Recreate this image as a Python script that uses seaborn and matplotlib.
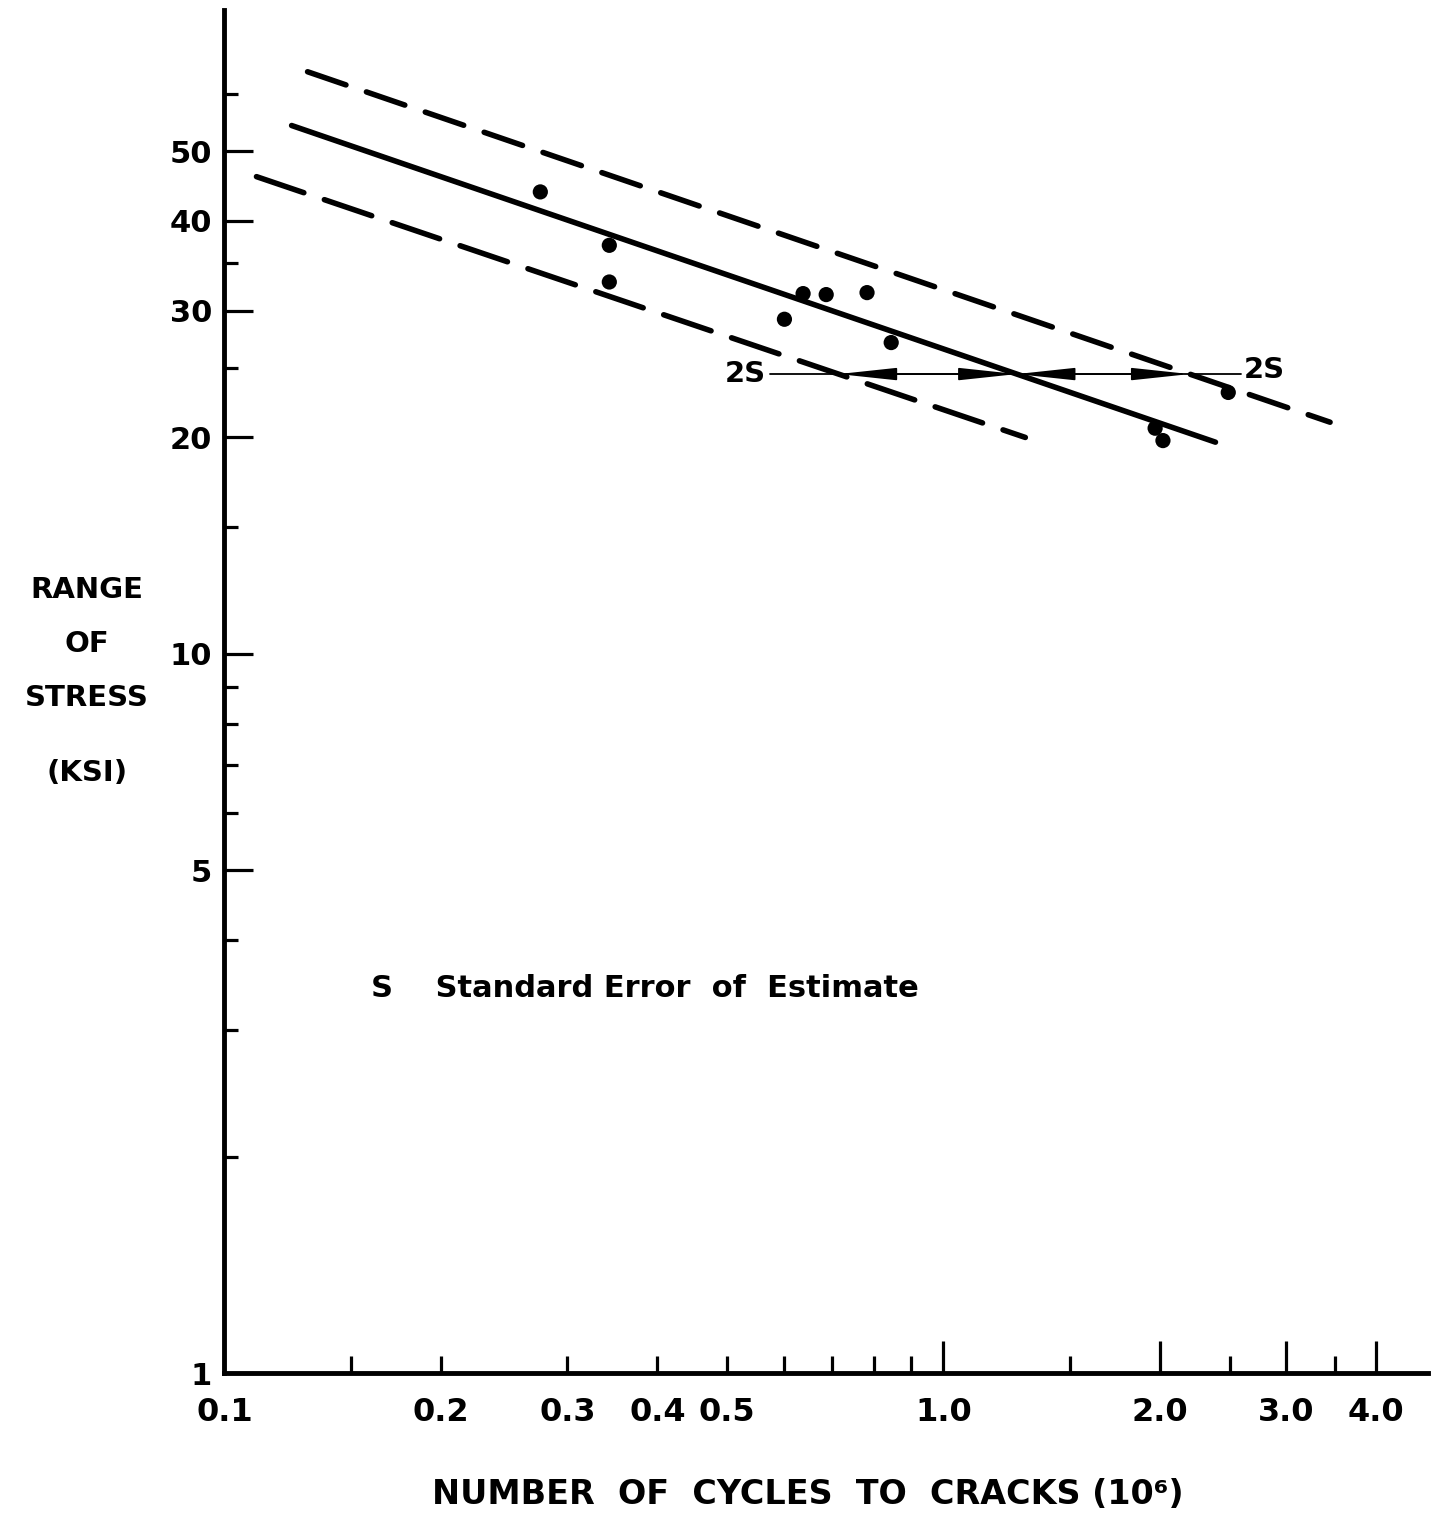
import numpy as np
import pandas as pd
import seaborn as sns
import matplotlib.pyplot as plt
from matplotlib.ticker import FixedLocator, FixedFormatter

# specimens: cycles to cracking (millions) and stress range (ksi)
cycles = [0.275, 0.343, 0.343, 0.601, 0.638, 0.687, 0.783, 0.846, 1.97, 2.02, 2.49]
stress = [43.9, 37.0, 32.9, 29.2, 31.7, 31.6, 31.8, 27.1, 20.6, 19.8, 23.1]

# regression line and the +/- 2S band (end points of each line)
line_names = ["mean", "mean", "upper", "upper", "lower", "lower"]
line_cycles = [0.124, 2.39, 0.1305, 3.45, 0.1108, 1.30]
line_stress = [54.3, 19.7, 64.5, 21.0, 46.1, 20.0]

# level of the 2S arrows and the extent of the thin guide line
band_stress = 24.5
band_span = [0.574, 2.59]

x_major = [1.0, 2.0, 3.0, 4.0]
x_major_labels = ["1.0", "2.0", "3.0", "4.0"]
x_minor = [0.1, 0.15, 0.2, 0.3, 0.4, 0.5, 0.6, 0.7, 0.8, 0.9, 1.5, 2.5, 3.5]
x_minor_labels = ["0.1", "", "0.2", "0.3", "0.4", "0.5", "", "", "", "", "", "", ""]
y_major = [1, 5, 10, 20, 30, 40, 50]
y_minor = [2, 3, 4, 6, 7, 8, 9, 15, 25, 35, 60]

lines_df = pd.DataFrame({"line": line_names, "cycles": line_cycles, "stress": line_stress})


def x_on_line(name, y):
    sub = lines_df[lines_df["line"] == name].sort_values("stress")
    lx = np.log10(sub["cycles"].to_numpy())
    ly = np.log10(sub["stress"].to_numpy())
    return 10 ** np.interp(np.log10(y), ly, lx)


def main():
    sns.set_theme(style="ticks")
    plt.rcParams["font.family"] = ["DejaVu Sans"]
    plt.rcParams["font.weight"] = "bold"
    plt.rcParams["text.color"] = "black"
    plt.rcParams["xtick.labelcolor"] = "black"
    plt.rcParams["ytick.labelcolor"] = "black"

    fig = plt.figure(figsize=(14.37, 15.16), dpi=100)
    ax = fig.add_axes([0.1562, 0.0943, 0.8375, 0.8991])
    ax.set_xscale("log")
    ax.set_yscale("log")

    sns.lineplot(
        data=lines_df, x="cycles", y="stress", style="line",
        dashes={"mean": "", "upper": (7.3, 3.9), "lower": (9.0, 3.9)},
        color="black", linewidth=4, dash_capstyle="round", solid_capstyle="round",
        estimator=None, sort=False, legend=False, ax=ax,
    )
    sns.scatterplot(x=cycles, y=stress, s=120, color="black", edgecolor="none", ax=ax)

    # 2S arrows between the band lines
    ax.plot(band_span, [band_stress, band_stress], color="black", lw=1.3)
    x_lo = x_on_line("lower", band_stress)
    x_mid = x_on_line("mean", band_stress)
    x_hi = x_on_line("upper", band_stress)
    for a, b in [(x_lo, x_mid), (x_mid, x_hi)]:
        ax.annotate(
            "", xy=(a, band_stress), xytext=(b, band_stress),
            arrowprops=dict(arrowstyle="<|-|>,head_length=3.0,head_width=0.32",
                            color="black", lw=1.2, shrinkA=0, shrinkB=0),
        )
    ax.annotate("2S", xy=(band_span[0], band_stress), xytext=(-3, 0),
                textcoords="offset points", ha="right", va="center", fontsize=21)
    ax.annotate("2S", xy=(band_span[1], band_stress), xytext=(2, 3),
                textcoords="offset points", ha="left", va="center", fontsize=21)

    ax.text(0.16, 3.43, "S    Standard Error  of  Estimate", ha="left", va="center",
            fontsize=22)

    ax.set_xlim(0.1, 4.72)
    ax.set_ylim(1, 78.6)

    ax.xaxis.set_major_locator(FixedLocator(x_major))
    ax.xaxis.set_major_formatter(FixedFormatter(x_major_labels))
    ax.xaxis.set_minor_locator(FixedLocator(x_minor))
    ax.xaxis.set_minor_formatter(FixedFormatter(x_minor_labels))
    ax.yaxis.set_major_locator(FixedLocator(y_major))
    ax.yaxis.set_major_formatter(FixedFormatter([str(v) for v in y_major]))
    ax.yaxis.set_minor_locator(FixedLocator(y_minor))
    ax.yaxis.set_minor_formatter(FixedFormatter([""] * len(y_minor)))

    ax.tick_params(axis="x", which="major", direction="in", length=23, width=2.3,
                   pad=17, labelsize=23, color="black")
    ax.tick_params(axis="x", which="minor", direction="in", length=12, width=2.3,
                   pad=17, labelsize=23, color="black")
    ax.tick_params(axis="y", which="major", direction="in", length=21, width=2.3,
                   pad=9, labelsize=22, color="black")
    ax.tick_params(axis="y", which="minor", direction="in", length=10, width=2.3,
                   color="black")

    sns.despine(ax=ax)
    for side in ["left", "bottom"]:
        ax.spines[side].set_linewidth(3.5)
        ax.spines[side].set_color("black")
    ax.set_xlabel("")
    ax.set_ylabel("")

    for label, yy in [("RANGE", 590), ("OF", 644), ("STRESS", 698), ("(KSI)", 773)]:
        fig.text(87 / 1437, 1 - yy / 1516, label, ha="center", va="center", fontsize=21)

    fig.text(808 / 1437, 1 - 1494 / 1516, "NUMBER  OF  CYCLES  TO  CRACKS (10\u2076)",
             ha="center", va="center", fontsize=24)

    fig.savefig("out.png", dpi=100)


if __name__ == "__main__":
    main()
